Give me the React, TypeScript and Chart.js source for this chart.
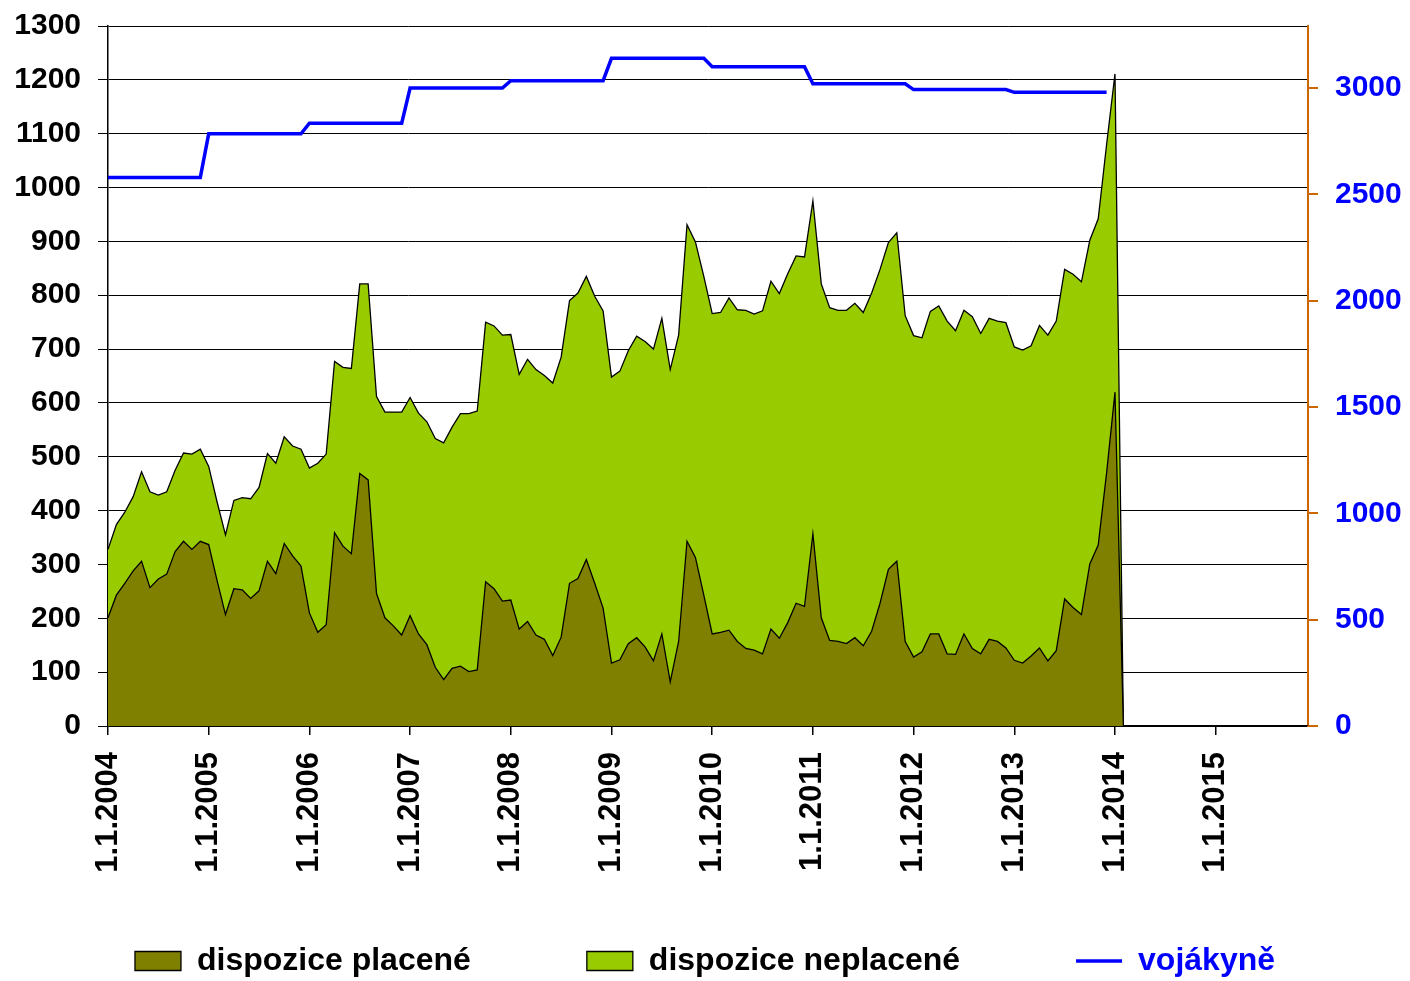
import React, { useEffect, useRef } from "react";
import { Chart, registerables } from "chart.js";

Chart.register(...registerables);

// Years on the category axis (monthly categories, only 1.1.YYYY labelled)
const roky = [2004, 2005, 2006, 2007, 2008, 2009, 2010, 2011, 2012, 2013, 2014, 2015];

// dispozice placené (monthly, Jan 2004 – Dec 2015)
const placene = [
  201, 243, 265, 288, 306, 257, 273, 282, 324, 343, 328, 343,
  337, 270, 207, 255, 253, 237, 251, 306, 283, 339, 316, 297,
  210, 174, 188, 359, 334, 320, 469, 457, 246, 201, 186, 169,
  205, 171, 151, 109, 86, 107, 111, 101, 104, 268, 255, 232,
  234, 180, 194, 169, 161, 131, 165, 265, 274, 309, 265, 219,
  117, 123, 153, 164, 147, 121, 171, 82, 157, 343, 313, 243,
  171, 174, 178, 157, 144, 141, 134, 180, 163, 192, 228, 222,
  357, 201, 159, 157, 153, 164, 149, 176, 228, 291, 306, 157,
  128, 138, 171, 171, 134, 133, 171, 144, 134, 161, 157, 145,
  122, 117, 130, 145, 121, 140, 236, 220, 207, 301, 336, 470,
  620, 0, 0, 0, 0, 0, 0, 0, 0, 0, 0, 0,
  0, 0, 0, 0, 0, 0, 0, 0, 0, 0, 0, 0,
];

// dispozice neplacené (monthly, stacked on top of placené)
const neplacene = [
  127, 131, 132, 138, 166, 178, 156, 153, 151, 164, 177, 171,
  145, 146, 148, 164, 171, 185, 192, 200, 205, 198, 204, 217,
  269, 314, 317, 318, 332, 344, 352, 364, 366, 382, 397, 414,
  405, 410, 414, 425, 440, 448, 469, 479, 481, 482, 488, 494,
  493, 473, 487, 493, 490, 506, 520, 525, 530, 526, 533, 552,
  531, 536, 544, 560, 567, 579, 586, 580, 569, 588, 586, 592,
  595, 594, 617, 616, 628, 624, 637, 646, 640, 648, 645, 649,
  618, 620, 618, 615, 619, 621, 619, 628, 620, 607, 610, 605,
  597, 583, 599, 609, 618, 601, 601, 616, 595, 596, 595, 604,
  582, 581, 576, 599, 605, 612, 612, 619, 618, 601, 606, 610,
  591, 0, 0, 0, 0, 0, 0, 0, 0, 0, 0, 0,
  0, 0, 0, 0, 0, 0, 0, 0, 0, 0, 0, 0,
];

// vojákyně – yearly headcount (right axis), 2004–2013
const vojakyneRocne = [2580, 2785, 2835, 3000, 3035, 3140, 3100, 3020, 2993, 2980];

// right axis tick values
const pravaOsaTicks = [0, 500, 1000, 1500, 2000, 2500, 3000];

const seriesNames = ["dispozice placené", "dispozice neplacené", "vojákyně"];

const labels: string[] = [];
roky.forEach((r) => {
  for (let m = 1; m <= 12; m++) labels.push(`1.${m}.${r}`);
});
const vojakyne = labels.map((_, i) => {
  const k = Math.floor(i / 12);
  return k < vojakyneRocne.length ? vojakyneRocne[k] : null;
});

const FONT = "'Liberation Sans', Arial, sans-serif";
const LEGEND_PAD = 116;
const LEGEND_ITEM_TOP = 945;

// stretches the legend box upward so its row sits below the rotated date labels
const legendPlace = {
  id: "legendPlace",
  afterLayout(chart: any) {
    const l = chart.legend;
    if (!l) return;
    l.top = LEGEND_ITEM_TOP - LEGEND_PAD;
    l.height = l.bottom - l.top;
  },
};

export default function App() {
  const ref = useRef<HTMLCanvasElement | null>(null);

  useEffect(() => {
    if (!ref.current) return;
    Chart.defaults.font.family = FONT;
    Chart.defaults.color = "#000";
    const chart = new Chart(ref.current, {
      type: "line",
      plugins: [legendPlace],
      data: {
        labels,
        datasets: [
          {
            label: seriesNames[0],
            data: placene,
            yAxisID: "y",
            backgroundColor: "#808000",
            borderColor: "#000",
            borderWidth: 1.3,
            fill: "origin",
            pointRadius: 0,
            tension: 0,
          },
          {
            label: seriesNames[1],
            data: neplacene,
            yAxisID: "y",
            backgroundColor: "#99CC00",
            borderColor: "#000",
            borderWidth: 1.3,
            fill: "-1",
            pointRadius: 0,
            tension: 0,
          },
          {
            label: seriesNames[2],
            data: vojakyne,
            yAxisID: "y1",
            backgroundColor: "#0000FF",
            borderColor: "#0000FF",
            borderWidth: 3.5,
            fill: false,
            pointRadius: 0,
            tension: 0,
          },
        ],
      },
      options: {
        responsive: false,
        animation: false,
        layout: { padding: { top: 26, bottom: 0, left: 0, right: 0 } },
        plugins: {
          tooltip: { enabled: false },
          legend: {
            position: "bottom",
            maxHeight: 50,
            labels: {
              usePointStyle: true,
              pointStyleWidth: 46,
              boxHeight: 19,
              padding: LEGEND_PAD,
              color: "#000",
              font: { size: 32, weight: "bold" },
              generateLabels(c: any) {
                const items = (Chart.defaults.plugins.legend.labels as any).generateLabels(c);
                return items.map((it: any, i: number) => ({
                  ...it,
                  pointStyle: i === 2 ? "line" : "rect",
                  fontColor: i === 2 ? "#0000FF" : "#000",
                  strokeStyle: i === 2 ? "#0000FF" : "#000",
                  lineWidth: i === 2 ? 3.5 : 1.3,
                }));
              },
            },
          },
        },
        scales: {
          x: {
            type: "category",
            offset: false,
            grid: { drawOnChartArea: false, drawTicks: true, tickLength: 9, color: "#000", lineWidth: 1.5 },
            border: { color: "#000", width: 1.5 },
            ticks: {
              autoSkip: false,
              maxRotation: 90,
              minRotation: 90,
              padding: 17,
              color: "#000",
              font: { size: 31, weight: "bold" },
              callback: (_v: any, i: number) => (i % 12 === 0 ? labels[i] : null),
            },
            afterFit: (s: any) => {
              s.height = 205;
            },
          },
          y: {
            stacked: true,
            position: "left",
            min: 0,
            max: 1300,
            ticks: {
              stepSize: 100,
              padding: 17,
              color: "#000",
              font: { size: 30, weight: "bold" },
              callback: (v: any) => String(v),
            },
            grid: { color: "#000", lineWidth: 1, tickLength: 10, drawTicks: true },
            border: { color: "#000", width: 1.5 },
            afterFit: (s: any) => {
              s.width = 108;
              s.paddingTop = 0;
              s.paddingBottom = 0;
            },
          },
          y1: {
            position: "right",
            min: 0,
            max: 3292,
            afterBuildTicks: (s: any) => {
              s.ticks = pravaOsaTicks.map((v) => ({ value: v }));
            },
            ticks: {
              padding: 17,
              color: "#0000FF",
              font: { size: 30, weight: "bold" },
              callback: (v: any) => String(v),
            },
            grid: { drawOnChartArea: false, color: "#CC6600", lineWidth: 2, tickLength: 10 },
            border: { color: "#CC6600", width: 2 },
            afterFit: (s: any) => {
              s.width = 102;
              s.paddingTop = 0;
              s.paddingBottom = 0;
            },
          },
        },
      } as any,
    });
    return () => chart.destroy();
  }, []);

  return (
    <div style={{ position: "fixed", left: 0, top: 0, width: 1410, height: 981, background: "#fff" }}>
      <canvas ref={ref} width={1410} height={981} style={{ display: "block" }} />
    </div>
  );
}
